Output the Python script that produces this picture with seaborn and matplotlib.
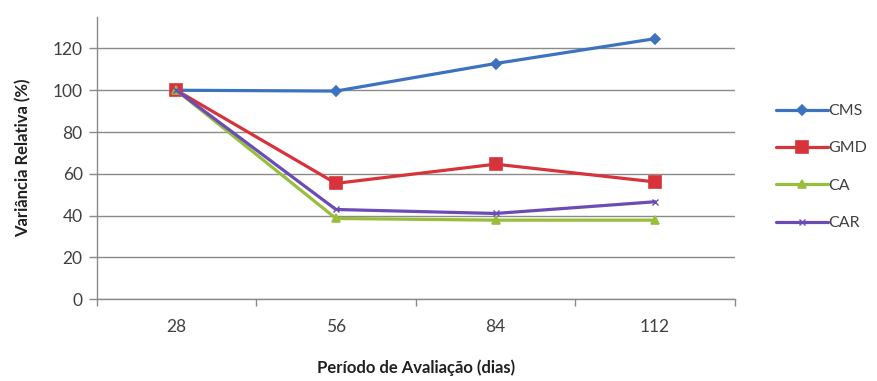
import matplotlib
matplotlib.use("Agg")
import matplotlib.pyplot as plt
import seaborn as sns
import pandas as pd
import numpy as np

# Evaluation periods (days) and relative variance (%) per treatment
periodos = ["28", "56", "84", "112"]
cms = [100, 99.6, 112.8, 124.7]
gmd = [100, 55.4, 64.6, 56.1]
ca = [100, 38.6, 37.8, 37.8]
car = [100, 42.9, 41.0, 46.6]

series = {"CMS": cms, "GMD": gmd, "CA": ca, "CAR": car}
cores = {"CMS": "#3D72BF", "GMD": "#D6333A", "CA": "#98BE3C", "CAR": "#6B4BB5"}
marcadores = {"CMS": "D", "GMD": "s", "CA": "^", "CAR": "x"}
tamanhos = {"CMS": 7, "GMD": 10, "CA": 8, "CAR": 6}

df = pd.DataFrame(
    [(i, p, nome, v) for nome, vals in series.items() for i, (p, v) in enumerate(zip(periodos, vals))],
    columns=["pos", "periodo", "serie", "valor"],
)

sns.set_theme(style="white")
plt.rcParams["font.family"] = ["Lato", "DejaVu Sans"]

fig = plt.figure(figsize=(8.78, 3.81), dpi=100)
ax = fig.add_axes([0.110, 0.215, 0.727, 0.74])

for nome in series:
    sub = df[df["serie"] == nome]
    sns.lineplot(
        data=sub, x="pos", y="valor", ax=ax, color=cores[nome],
        marker=marcadores[nome], markersize=tamanhos[nome],
        markeredgecolor=cores[nome], markeredgewidth=1.2 if nome != "CAR" else 1.0,
        linewidth=2.3, label=nome, legend=False,
    )

ax.set_xlim(-0.5, 3.5)
ax.set_ylim(0, 135)
ax.set_yticks(np.arange(0, 121, 20))
ax.set_xticks(range(len(periodos)))
ax.set_xticklabels(periodos)
ax.set_xticks(np.arange(-0.5, 3.6, 1.0), minor=True)

ax.grid(axis="y", color="#8a8a8a", linewidth=1.0)
ax.set_axisbelow(True)
for s in ["top", "right"]:
    ax.spines[s].set_visible(False)
for s in ["left", "bottom"]:
    ax.spines[s].set_color("#8a8a8a")
    ax.spines[s].set_linewidth(1.0)

ax.tick_params(axis="y", which="major", length=6, width=1, color="#8a8a8a", direction="out",
               labelsize=12.5, labelcolor="#404040", pad=4, left=True)
ax.tick_params(axis="x", which="major", length=0, labelsize=12.5, labelcolor="#404040", pad=14)
ax.tick_params(axis="x", which="minor", length=5, width=1, color="#8a8a8a", direction="out", bottom=True)

ax.set_xlabel("Período de Avaliação (dias)", fontsize=12, fontweight="bold", color="#202020", labelpad=18)
ax.set_ylabel("Variância Relativa (%)", fontsize=12, fontweight="bold", color="#202020", labelpad=15)

handles, labels = ax.get_legend_handles_labels()
for h in handles:
    h.set_markersize(h.get_markersize() * 0.8)
fig.legend(handles, labels, loc="upper left", bbox_to_anchor=(0.868, 0.765), frameon=False,
           fontsize=11.5, handlelength=3.2, handletextpad=0.05, labelspacing=1.45, labelcolor="#404040")

fig.savefig("out.png", dpi=100, facecolor="white")
